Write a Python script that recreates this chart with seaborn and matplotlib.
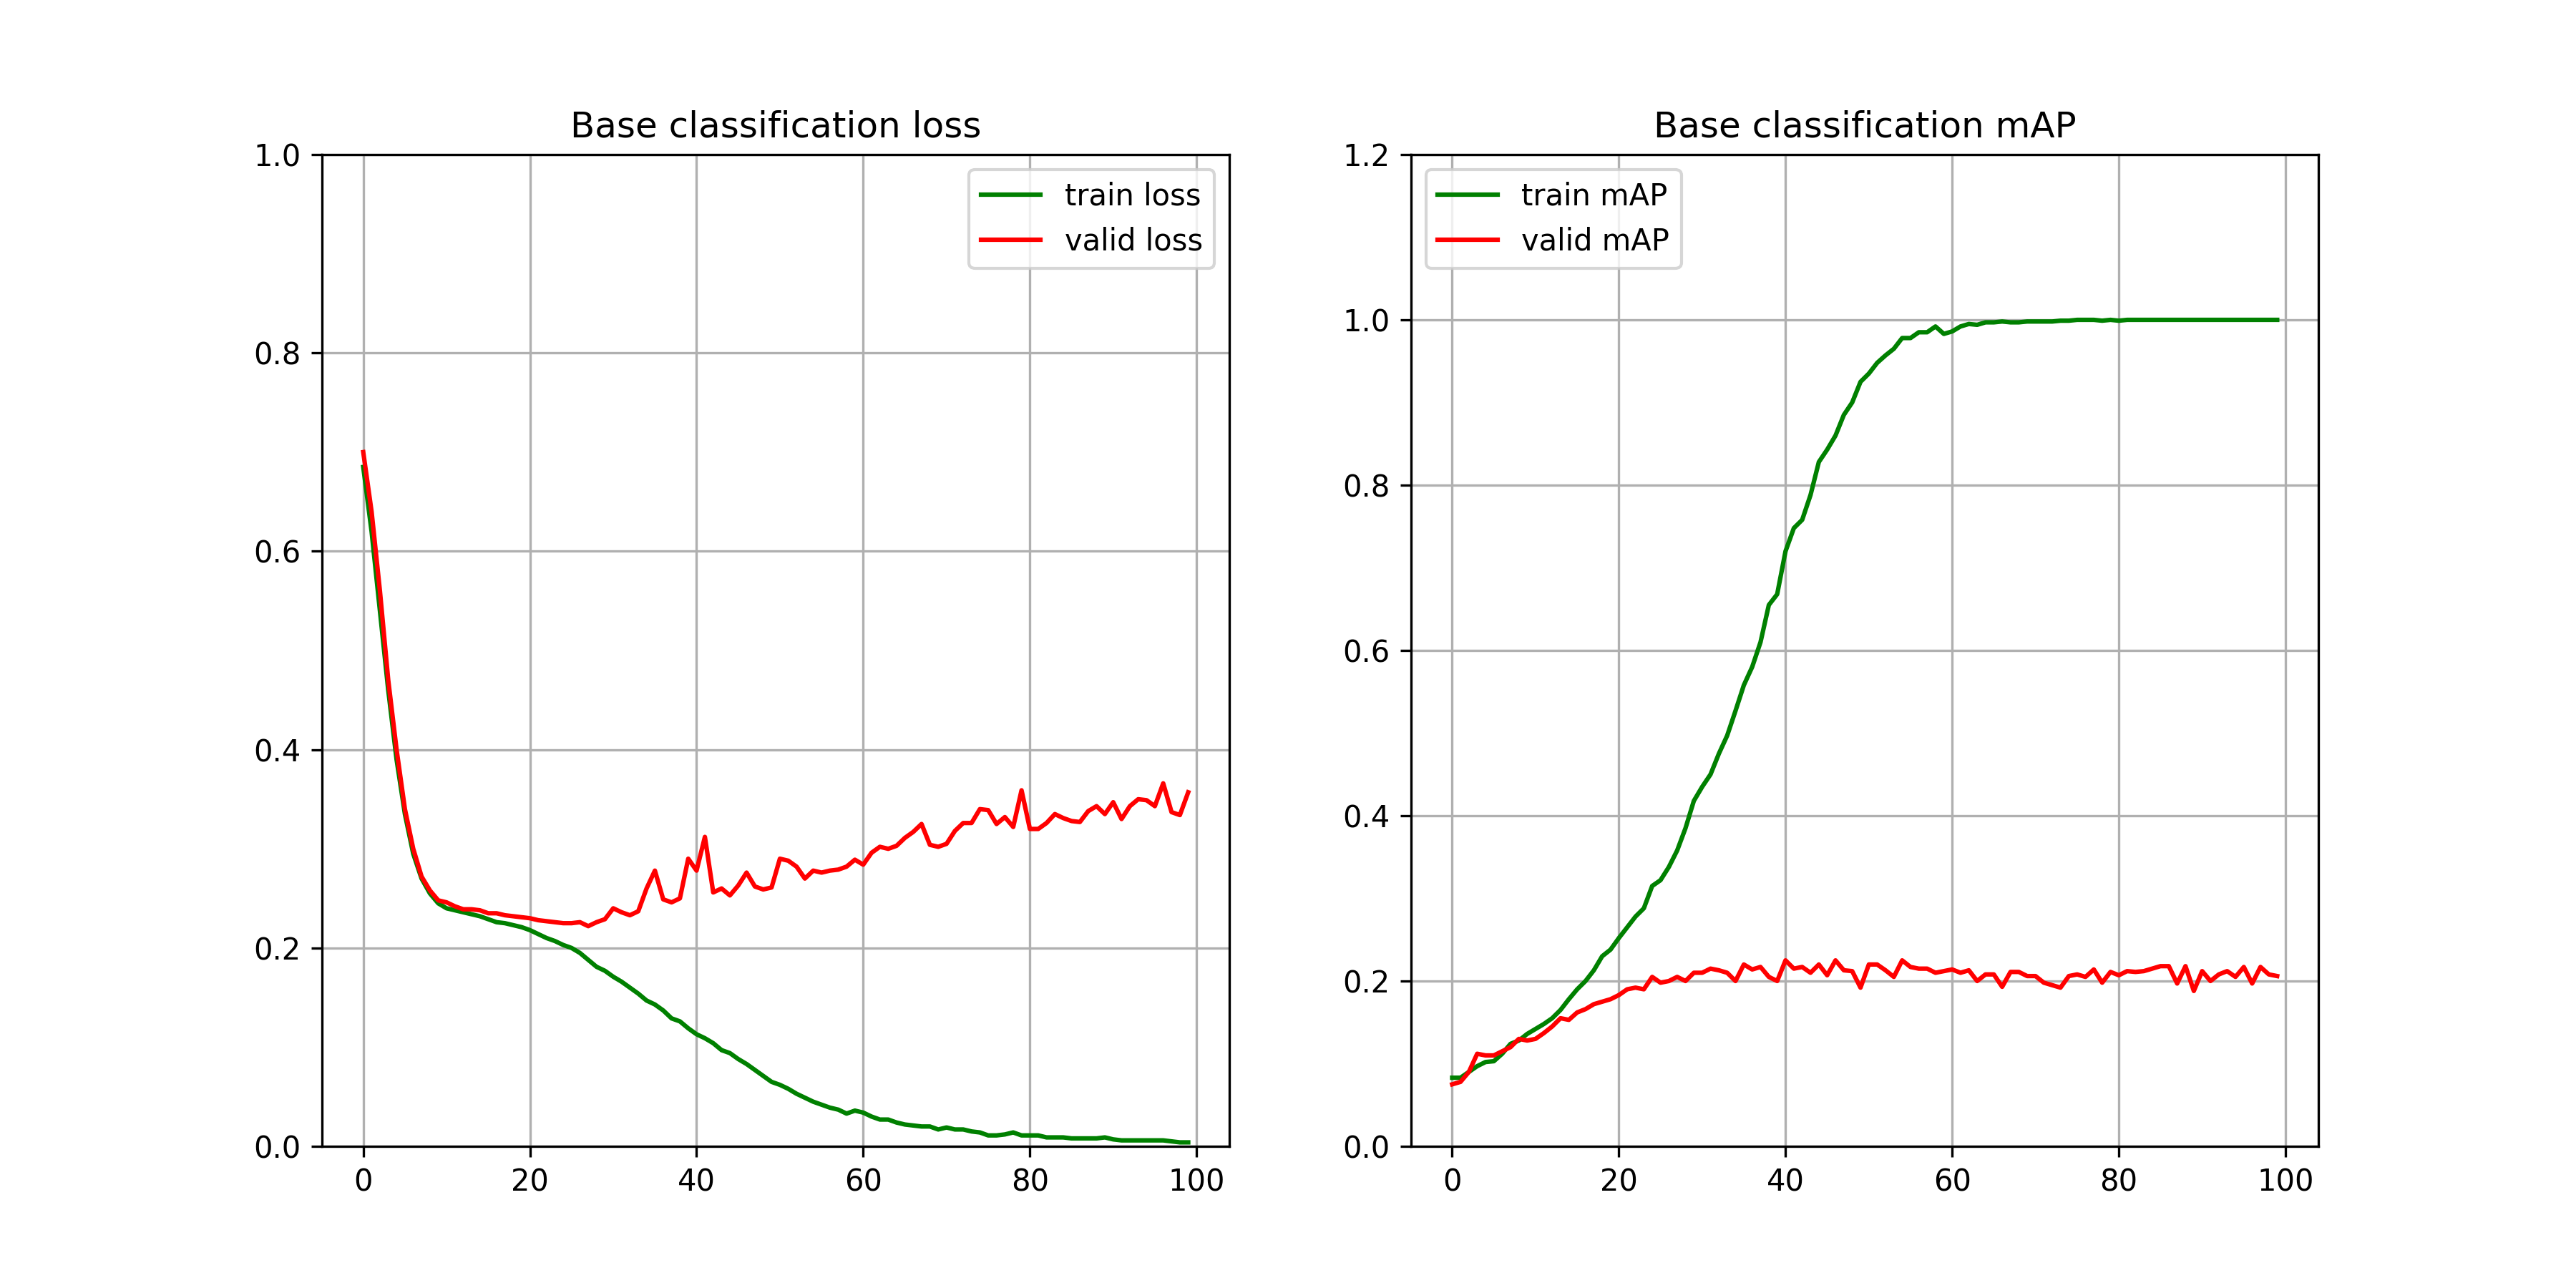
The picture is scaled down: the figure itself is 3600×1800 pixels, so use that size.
import seaborn as sns
import matplotlib
matplotlib.use('Agg')
import matplotlib.pyplot as plt
import numpy as np

epochs = list(range(100))

train_loss = [0.685, 0.62, 0.54, 0.46, 0.39, 0.335, 0.295, 0.27, 0.255, 0.245,
              0.24, 0.238, 0.236, 0.234, 0.232, 0.229, 0.226, 0.225, 0.223, 0.221,
              0.218, 0.214, 0.21, 0.207, 0.203, 0.2, 0.195, 0.188, 0.181, 0.177,
              0.171, 0.166, 0.16, 0.154, 0.147, 0.143, 0.137, 0.129, 0.126, 0.119,
              0.113, 0.109, 0.104, 0.097, 0.094, 0.088, 0.083, 0.077, 0.071, 0.065,
              0.062, 0.058, 0.053, 0.049, 0.045, 0.042, 0.039, 0.037, 0.033, 0.036,
              0.034, 0.03, 0.027, 0.027, 0.024, 0.022, 0.021, 0.02, 0.02, 0.017,
              0.019, 0.017, 0.017, 0.015, 0.014, 0.011, 0.011, 0.012, 0.014, 0.011,
              0.011, 0.011, 0.009, 0.009, 0.009, 0.008, 0.008, 0.008, 0.008, 0.009,
              0.007, 0.006, 0.006, 0.006, 0.006, 0.006, 0.006, 0.005, 0.004, 0.004]

valid_loss = [0.70, 0.64, 0.56, 0.47, 0.40, 0.34, 0.30, 0.272, 0.258, 0.248,
              0.246, 0.242, 0.239, 0.239, 0.238, 0.235, 0.235, 0.233, 0.232, 0.231,
              0.23, 0.228, 0.227, 0.226, 0.225, 0.225, 0.226, 0.222, 0.226, 0.229,
              0.24, 0.236, 0.233, 0.237, 0.26, 0.278, 0.249, 0.246, 0.25, 0.29,
              0.278, 0.312, 0.256, 0.26, 0.253, 0.263, 0.276, 0.262, 0.259, 0.261,
              0.29, 0.288, 0.282, 0.27, 0.278, 0.276, 0.278, 0.279, 0.282, 0.289,
              0.284, 0.296, 0.302, 0.3, 0.303, 0.311, 0.317, 0.325, 0.304, 0.302,
              0.305, 0.318, 0.326, 0.326, 0.34, 0.339, 0.325, 0.332, 0.322, 0.359,
              0.32, 0.32, 0.326, 0.335, 0.331, 0.328, 0.327, 0.338, 0.343, 0.335,
              0.347, 0.33, 0.343, 0.35, 0.349, 0.343, 0.366, 0.337, 0.334, 0.357]

train_map = [0.083, 0.083, 0.09, 0.097, 0.102, 0.103, 0.112, 0.124, 0.128, 0.136,
             0.142, 0.148, 0.155, 0.165, 0.178, 0.19, 0.2, 0.213, 0.23, 0.238,
             0.252, 0.265, 0.278, 0.288, 0.315, 0.322, 0.338, 0.358, 0.385, 0.418,
             0.435, 0.45, 0.475, 0.497, 0.527, 0.558, 0.58, 0.61, 0.655, 0.668,
             0.72, 0.748, 0.758, 0.788, 0.828, 0.843, 0.86, 0.885, 0.9, 0.925,
             0.935, 0.948, 0.957, 0.965, 0.978, 0.978, 0.985, 0.985, 0.992, 0.983,
             0.986, 0.992, 0.995, 0.994, 0.997, 0.997, 0.998, 0.997, 0.997, 0.998,
             0.998, 0.998, 0.998, 0.999, 0.999, 1.0, 1.0, 1.0, 0.999, 1.0,
             0.999, 1.0, 1.0, 1.0, 1.0, 1.0, 1.0, 1.0, 1.0, 1.0,
             1.0, 1.0, 1.0, 1.0, 1.0, 1.0, 1.0, 1.0, 1.0, 1.0]

valid_map = [0.075, 0.078, 0.09, 0.112, 0.11, 0.11, 0.115, 0.12, 0.13, 0.128,
             0.13, 0.137, 0.145, 0.155, 0.153, 0.162, 0.166, 0.172, 0.175, 0.178,
             0.183, 0.19, 0.192, 0.19, 0.205, 0.198, 0.2, 0.205, 0.2, 0.21,
             0.21, 0.215, 0.213, 0.21, 0.2, 0.22, 0.214, 0.217, 0.205, 0.2,
             0.225, 0.215, 0.217, 0.21, 0.22, 0.207, 0.225, 0.213, 0.212, 0.192,
             0.22, 0.22, 0.213, 0.205, 0.225, 0.217, 0.215, 0.215, 0.21, 0.212,
             0.214, 0.21, 0.213, 0.2, 0.208, 0.208, 0.193, 0.211, 0.211, 0.206,
             0.206, 0.198, 0.195, 0.192, 0.206, 0.208, 0.205, 0.214, 0.198, 0.211,
             0.207, 0.212, 0.211, 0.212, 0.215, 0.218, 0.218, 0.197, 0.218, 0.188,
             0.212, 0.2, 0.208, 0.212, 0.205, 0.217, 0.197, 0.217, 0.208, 0.206]

fig, axes = plt.subplots(1, 2, figsize=(12, 6))

ax = axes[0]
sns.lineplot(x=epochs, y=train_loss, color='green', label='train loss', ax=ax)
sns.lineplot(x=epochs, y=valid_loss, color='red', label='valid loss', ax=ax)
ax.set_ylim(0, 1.0)
ax.set_title('Base classification loss')
ax.grid(True)
ax.legend(loc='upper right')

ax = axes[1]
sns.lineplot(x=epochs, y=train_map, color='green', label='train mAP', ax=ax)
sns.lineplot(x=epochs, y=valid_map, color='red', label='valid mAP', ax=ax)
ax.set_ylim(0, 1.2)
ax.set_title('Base classification mAP')
ax.grid(True)
ax.legend(loc='upper left')

fig.savefig('out.png', dpi=300)
